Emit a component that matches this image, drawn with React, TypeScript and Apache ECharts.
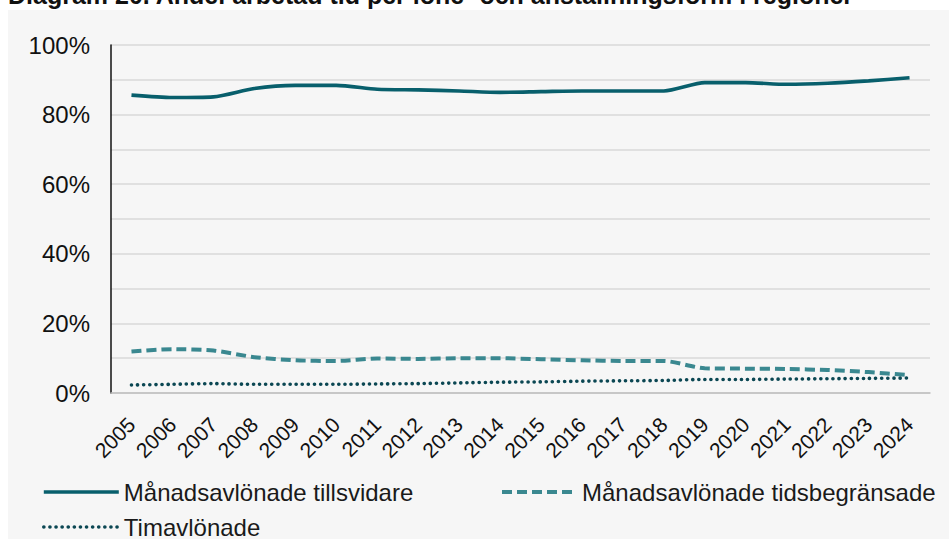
import React, { useEffect, useRef } from "react";
import * as echarts from "echarts";

const years = ["2005","2006","2007","2008","2009","2010","2011","2012","2013","2014","2015","2016","2017","2018","2019","2020","2021","2022","2023","2024"];
const tillsvidare = [85.6,84.9,85.1,87.5,88.4,88.4,87.3,87.1,86.8,86.4,86.6,86.8,86.8,86.8,89.2,89.2,88.7,89.0,89.7,90.6];
const tidsbegransade = [11.9,12.6,12.2,10.3,9.4,9.2,9.9,9.8,10.0,10.0,9.7,9.4,9.2,9.2,7.1,7.0,6.9,6.6,6.0,5.1];
const timavlonade = [2.3,2.5,2.7,2.5,2.5,2.5,2.6,2.7,2.9,3.1,3.2,3.4,3.5,3.6,3.9,3.9,4.0,4.1,4.2,4.3];
const seriesNames = ["Månadsavlönade tillsvidare", "Månadsavlönade tidsbegränsade", "Timavlönade"];
const title = "Diagram 20. Andel arbetad tid per löne- och anställningsform i regioner";

const FONT = "'Liberation Sans', Arial, sans-serif";

export default function App() {
  const ref = useRef<HTMLDivElement>(null);
  useEffect(() => {
    if (!ref.current) return;
    const chart = echarts.init(ref.current, undefined, { renderer: "svg" });
    const legendText = { fontFamily: FONT, fontSize: 24, color: "#1a1a1a" };
    const legendBase = { padding: 0, itemWidth: 75, itemHeight: 14, textStyle: legendText, itemStyle: { opacity: 0 } };
    chart.setOption({
      animation: false,
      backgroundColor: "#ffffff",
      graphic: [
        { type: "rect", z: -10, shape: { x: 8, y: 10, width: 941, height: 529 }, style: { fill: "#f6f6f6" } },
        { type: "text", z: 10, x: 8, y: 7, style: { text: title, fontFamily: FONT, fontWeight: "bold", fontSize: 25, fill: "#111", textVerticalAlign: "bottom" } },
      ],
      grid: { left: 111, right: 19, top: 45, bottom: 146 },
      xAxis: {
        type: "category",
        data: years,
        boundaryGap: true,
        axisLine: { lineStyle: { color: "#bfbfbf", width: 1.5 } },
        axisTick: { show: false },
        axisLabel: { rotate: 45, margin: 28, fontFamily: FONT, fontSize: 21, color: "#111", interval: 0 },
      },
      yAxis: {
        type: "value",
        min: 0,
        max: 100,
        interval: 10,
        axisLine: { show: true, lineStyle: { color: "#111", width: 1.5 } },
        axisTick: { show: false },
        splitLine: { lineStyle: { color: "#d9d9d9", width: 1.5 } },
        axisLabel: {
          margin: 21,
          fontFamily: FONT,
          fontSize: 24,
          color: "#111",
          formatter: (v: number) => (v % 20 === 0 ? v + "%" : ""),
        },
      },
      legend: [
        { ...legendBase, left: 42, top: 480, data: [seriesNames[0]], lineStyle: { width: 3.6 } },
        { ...legendBase, left: 500, top: 480, data: [seriesNames[1]], lineStyle: { width: 4 } },
        { ...legendBase, left: 42, top: 515, data: [seriesNames[2]], lineStyle: { width: 3.6 } },
      ],
      series: [
        {
          name: seriesNames[0], type: "line", data: tillsvidare, smooth: 0.25, symbol: "none",
          itemStyle: { color: "#085f6c" },
          lineStyle: { color: "#085f6c", width: 3.6 },
        },
        {
          name: seriesNames[1], type: "line", data: tidsbegransade, smooth: 0.25, symbol: "none",
          itemStyle: { color: "#3a8890" },
          lineStyle: { color: "#3a8890", width: 4, type: [10, 5] },
        },
        {
          name: seriesNames[2], type: "line", data: timavlonade, smooth: 0.25, symbol: "none",
          itemStyle: { color: "#0b4753" },
          lineStyle: { color: "#0b4753", width: 3.6, type: [0.1, 6], cap: "round" },
        },
      ],
    });
    return () => chart.dispose();
  }, []);
  return <div ref={ref} style={{ position: "absolute", left: 0, top: 0, width: 949, height: 539 }} />;
}
